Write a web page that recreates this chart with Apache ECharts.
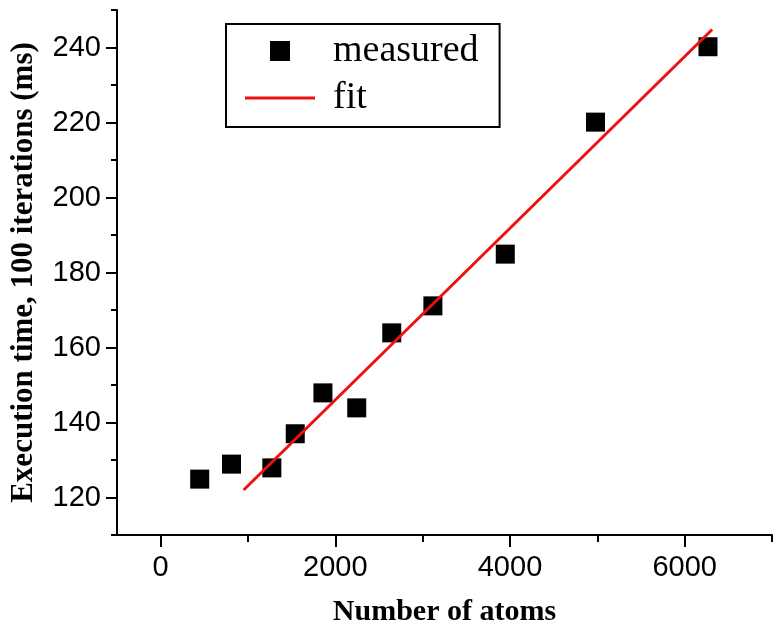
<!DOCTYPE html>
<html>
<head>
<meta charset="utf-8">
<script src="https://cdn.jsdelivr.net/npm/echarts@6/dist/echarts.min.js"></script>
<style>html,body{margin:0;padding:0;background:#fff}#c{width:780px;height:638px}</style>
</head>
<body>
<div id="c"></div>
<script>
// Data
const atoms    = [447, 811, 1273, 1541, 1858, 2245, 2646, 3117, 3946, 4979, 6267];
const timesMs  = [124.9, 128.9, 127.9, 137.0, 147.9, 143.9, 163.9, 171.1, 184.9, 220.1, 240.2];
const fitAtoms = [950, 6315];
const fitTimes = [122.0, 244.8];
const xMajorTicks = [0, 2000, 4000, 6000];
const xMinorTicks = [1000, 3000, 5000, 7000];
const yMajorTicks = [120, 140, 160, 180, 200, 220, 240];
const yMinorTicks = [110, 130, 150, 170, 190, 210, 230, 250];

const chart = echarts.init(document.getElementById('c'));
const black = '#000';
const red = '#ee1111';
const lblFont = {color: black, fontFamily: 'Liberation Sans', fontSize: 29, formatter: v => String(v)};
const nameFont = {color: black, fontFamily: 'Liberation Serif', fontWeight: 'bold'};

chart.setOption({
  animation: false,
  backgroundColor: '#fff',
  grid: {left: 117, top: 10, right: 8, bottom: 103, containLabel: false},
  legend: {
    orient: 'vertical',
    left: 226, top: 24,
    padding: [8, 21, 10, 19],
    itemGap: 9,
    itemWidth: 70, itemHeight: 20,
    borderColor: black, borderWidth: 2,
    symbolKeepAspect: true,
    textStyle: {color: black, fontFamily: 'Liberation Serif', fontSize: 38, padding: [0, 0, 0, 13]},
    data: [
      {name: 'measured', icon: 'path://M0,0L10,0L10,10L0,10Z', itemStyle: {color: black, opacity: 1}},
      {name: 'fit', icon: 'path://M0,0L70,0L70,3L0,3Z', itemStyle: {color: red}}
    ]
  },
  xAxis: [
    {
      type: 'value', min: -500, max: 7000,
      name: 'Number of atoms', nameLocation: 'middle', nameGap: 62,
      nameTextStyle: Object.assign({fontSize: 30}, nameFont),
      axisLine: {show: true, onZero: false, lineStyle: {color: black, width: 2}},
      axisTick: {show: true, inside: false, length: 12, customValues: xMajorTicks, lineStyle: {color: black, width: 2}},
      axisLabel: Object.assign({margin: 18, customValues: xMajorTicks}, lblFont),
      splitLine: {show: false}
    },
    {
      type: 'value', min: -500, max: 7000, position: 'bottom',
      axisLine: {show: false, onZero: false},
      axisTick: {show: true, inside: false, length: 7, customValues: xMinorTicks, lineStyle: {color: black, width: 2}},
      axisLabel: {show: false},
      splitLine: {show: false}
    }
  ],
  yAxis: [
    {
      type: 'value', min: 110, max: 250,
      name: 'Execution time, 100 iterations (ms)', nameLocation: 'middle', nameGap: 78,
      nameTextStyle: Object.assign({fontSize: 31}, nameFont),
      axisLine: {show: true, onZero: false, lineStyle: {color: black, width: 2}},
      axisTick: {show: true, inside: false, length: 11, customValues: yMajorTicks, lineStyle: {color: black, width: 2}},
      axisLabel: Object.assign({margin: 16, customValues: yMajorTicks}, lblFont),
      splitLine: {show: false}
    },
    {
      type: 'value', min: 110, max: 250, position: 'left',
      axisLine: {show: false, onZero: false},
      axisTick: {show: true, inside: false, length: 6, customValues: yMinorTicks, lineStyle: {color: black, width: 2}},
      axisLabel: {show: false},
      splitLine: {show: false}
    }
  ],
  series: [
    {
      name: 'measured', type: 'scatter', xAxisIndex: 0, yAxisIndex: 0,
      symbol: 'rect', symbolSize: 19,
      itemStyle: {color: black, opacity: 1},
      data: atoms.map((a, i) => [a, timesMs[i]]),
      z: 3
    },
    {
      name: 'fit', type: 'line', xAxisIndex: 0, yAxisIndex: 0,
      symbol: 'none', showSymbol: false,
      lineStyle: {color: red, width: 3},
      itemStyle: {color: red},
      data: fitAtoms.map((a, i) => [a, fitTimes[i]]),
      z: 4
    }
  ]
});
</script>
</body>
</html>
